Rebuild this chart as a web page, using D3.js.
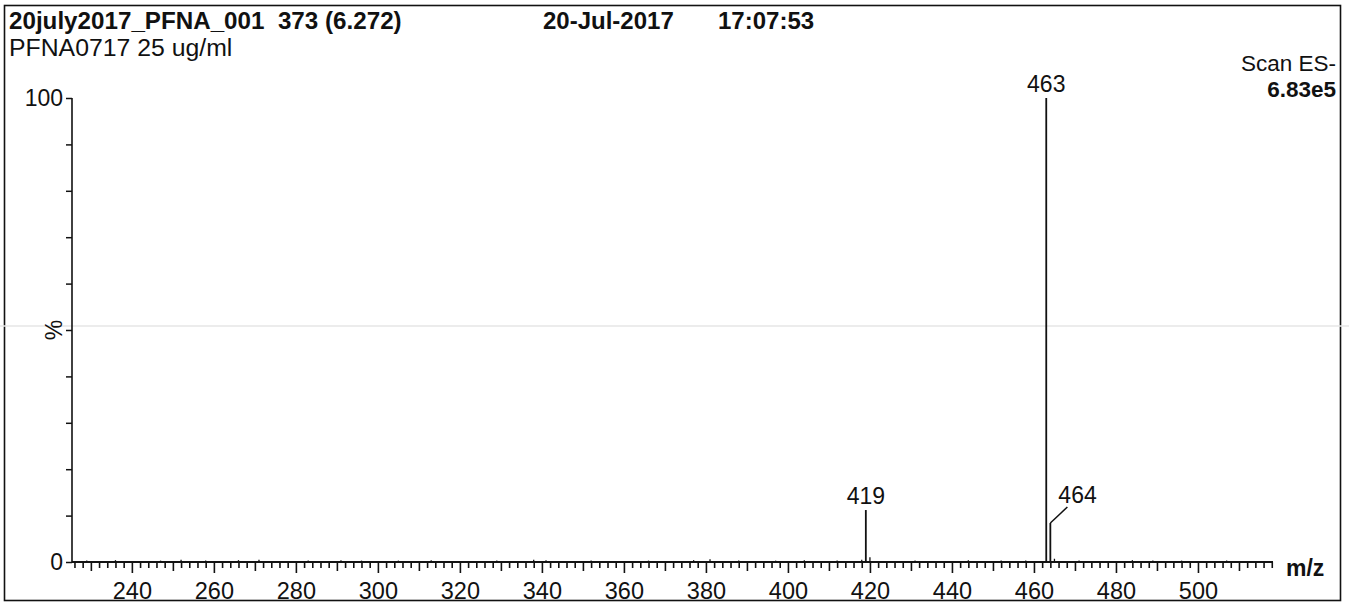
<!DOCTYPE html>
<html>
<head>
<meta charset="utf-8">
<script src="https://cdn.jsdelivr.net/npm/d3@7"></script>
<style>
  body { margin: 0; background: #fff; }
  text { font-family: "Liberation Sans", Arial, sans-serif; fill: #111; white-space: pre; }
</style>
</head>
<body>
<script>
const WIDTH = 1349, HEIGHT = 604;

// labelled peaks (m/z, relative intensity %)
const peakMz = [419, 463, 464];
const peakInt = [11.2, 100, 8.4];
const peakLabels = ["419", "463", "464"];

// small baseline noise
const noiseMz = [229, 236, 247, 252, 258, 266, 271, 283, 291, 296, 305, 313, 329, 338, 341, 352, 366, 377, 381, 388, 397, 404, 412, 418, 420, 431, 444, 452, 458, 465, 471, 484, 489, 496, 507];
const noiseInt = [0.3, 0.4, 0.3, 0.5, 0.3, 0.4, 0.5, 0.3, 0.4, 0.3, 0.3, 0.4, 0.3, 0.5, 0.4, 0.3, 0.3, 0.4, 0.6, 0.3, 0.3, 0.4, 0.3, 0.5, 1.0, 0.3, 0.4, 0.3, 0.3, 0.7, 0.3, 0.4, 0.3, 0.3, 0.3];

const xMajor = [240, 260, 280, 300, 320, 340, 360, 380, 400, 420, 440, 460, 480, 500];
const yTicks = [0, 10, 20, 30, 40, 50, 60, 70, 80, 90, 100];
const yLabels = [0, 100];

const titleLeft = "20july2017_PFNA_001  373 (6.272)";
const subTitle = "PFNA0717 25 ug/ml";
const dateText = "20-Jul-2017";
const timeText = "17:07:53";
const scanText = "Scan ES-";
const maxText = "6.83e5";

const svg = d3.select("body").append("svg")
    .attr("width", WIDTH).attr("height", HEIGHT);

// frame
svg.append("rect").attr("x", 4.5).attr("y", 5.5).attr("width", 1336).attr("height", 595)
    .attr("fill", "none").attr("stroke", "#111").attr("stroke-width", 1.6);

// faint scan artifact line
svg.append("line").attr("x1", 0).attr("x2", WIDTH).attr("y1", 326).attr("y2", 326)
    .attr("stroke", "#e6e6e6").attr("stroke-width", 1.5);

const x = d3.scaleLinear().domain([225.4, 518.3]).range([72, 1273]);
const y = d3.scaleLinear().domain([0, 100]).range([562, 98]);

// header texts
svg.append("text").attr("x", 9).attr("y", 29).attr("font-size", 24.2).attr("font-weight", "bold").text(titleLeft);
svg.append("text").attr("x", 9).attr("y", 56).attr("font-size", 24.8).text(subTitle);
svg.append("text").attr("x", 543).attr("y", 29).attr("font-size", 24).attr("font-weight", "bold").text(dateText);
svg.append("text").attr("x", 718).attr("y", 29).attr("font-size", 24).attr("font-weight", "bold").text(timeText);
svg.append("text").attr("x", 1336).attr("y", 71).attr("font-size", 22.5).attr("text-anchor", "end").text(scanText);
svg.append("text").attr("x", 1336).attr("y", 97).attr("font-size", 22.5).attr("font-weight", "bold").attr("text-anchor", "end").text(maxText);

// x axis: minor / medium / major ticks
const minorTicks = d3.range(226, 519, 2).filter(v => v % 10 !== 0);
const mediumTicks = d3.range(230, 519, 10).filter(v => v % 20 !== 0);

const gx = svg.append("g").attr("transform", `translate(0,${y(0)})`);
gx.append("g").call(d3.axisBottom(x).tickValues(minorTicks).tickSize(6).tickFormat(""));
gx.append("g").call(d3.axisBottom(x).tickValues(mediumTicks).tickSize(9).tickFormat(""));
gx.append("g").call(d3.axisBottom(x).tickValues(xMajor).tickSize(11).tickPadding(9).tickFormat(d3.format("d")));
gx.selectAll(".domain").attr("stroke", "#111").attr("stroke-width", 1.6)
    .attr("d", `M${x.range()[0]},0H${x.range()[1]}`);
gx.selectAll(".tick line").attr("stroke", "#111").attr("stroke-width", 1.6);
gx.selectAll(".tick text").attr("font-size", 23.5).attr("fill", "#111")
    .attr("font-family", "Liberation Sans, Arial, sans-serif");

svg.append("text").attr("x", 1286).attr("y", 576).attr("font-size", 23).attr("font-weight", "bold").text("m/z");

// y axis
const gy = svg.append("g").attr("transform", `translate(${x.range()[0]},0)`);
gy.call(d3.axisLeft(y).tickValues(yTicks).tickSize(6).tickPadding(3)
    .tickFormat(d => yLabels.includes(d) ? d : ""));
gy.selectAll(".domain").attr("stroke", "#111").attr("stroke-width", 1.6)
    .attr("d", `M0,${y(100)}V${y(0)}`);
gy.selectAll(".tick line").attr("stroke", "#111").attr("stroke-width", 1.5);
gy.selectAll(".tick text").attr("font-size", 23).attr("fill", "#111")
    .attr("font-family", "Liberation Sans, Arial, sans-serif");

svg.append("text").attr("transform", `translate(62,${y(50)}) rotate(-90)`)
    .attr("text-anchor", "middle").attr("font-size", 23).text("%");

// noise sticks
svg.append("g").selectAll("line").data(noiseMz).join("line")
    .attr("x1", d => x(d)).attr("x2", d => x(d))
    .attr("y1", y(0)).attr("y2", (d, i) => y(noiseInt[i]))
    .attr("stroke", "#111").attr("stroke-width", 1.3);

// peaks
const peaks = peakMz.map((m, i) => ({ mz: m, v: peakInt[i], label: peakLabels[i] }));
svg.append("g").selectAll("line").data(peaks).join("line")
    .attr("x1", d => x(d.mz)).attr("x2", d => x(d.mz))
    .attr("y1", y(0)).attr("y2", d => y(d.v))
    .attr("stroke", "#111").attr("stroke-width", 1.8);

// peak labels (464 uses a leader line, as in the original)
peaks.forEach(d => {
  if (d.mz === 464) {
    const lx = x(d.mz) + 17, ly = y(d.v) - 16;
    svg.append("line").attr("x1", x(d.mz)).attr("y1", y(d.v)).attr("x2", lx).attr("y2", ly)
        .attr("stroke", "#111").attr("stroke-width", 1.5);
    svg.append("text").attr("x", lx - 9).attr("y", ly - 4).attr("font-size", 23).text(d.label);
  } else {
    svg.append("text").attr("x", x(d.mz)).attr("y", y(d.v) - 6)
        .attr("text-anchor", "middle").attr("font-size", 23).text(d.label);
  }
});
</script>
</body>
</html>
